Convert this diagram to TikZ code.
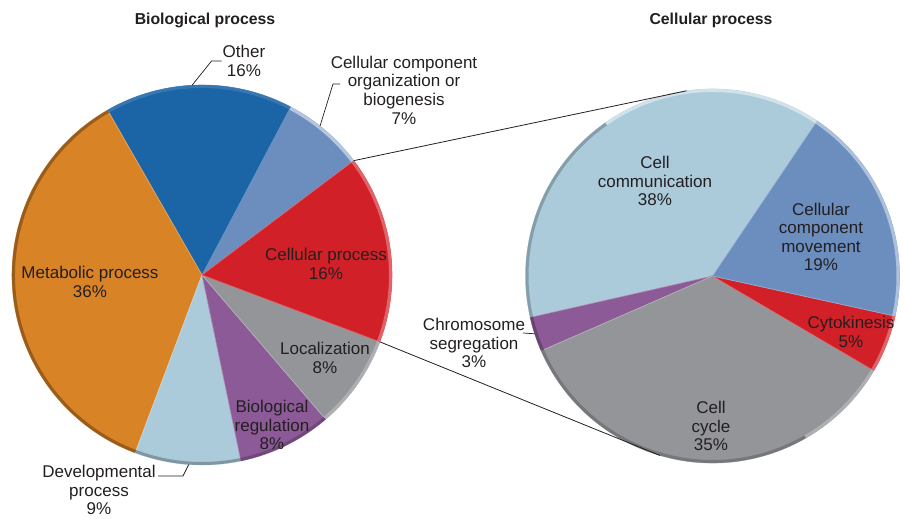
\documentclass[tikz,border=0pt]{standalone}
\usepackage{fontspec}
\setmainfont{Liberation Sans}
\usetikzlibrary{calc}
\definecolor{otherblue}{HTML}{1B64A6}
\definecolor{ccoblue}{HTML}{6C8EBF}
\definecolor{cellred}{HTML}{D12028}
\definecolor{locgray}{HTML}{939598}
\definecolor{regpurple}{HTML}{8C5A97}
\definecolor{devblue}{HTML}{ABCADA}
\definecolor{metorange}{HTML}{D98327}
\definecolor{ink}{HTML}{231F20}
\tikzset{
  lbl/.style={align=center,text=ink,font=\fontsize{17}{18.6}\selectfont,inner sep=1pt},
  ttl/.style={text=ink,font=\fontsize{15.8}{18}\selectfont\bfseries},
  rim/.style={line width=3pt},
  leader/.style={draw=ink,line width=0.7pt},
  link/.style={draw=ink,line width=0.8pt}
}
\begin{document}
\begin{tikzpicture}[x=1pt,y=1pt]
    \useasboundingbox (0,0) rectangle (906,519);
    \coordinate (lc) at (202,244);
    \coordinate (rc) at (712.5,243);

    % biological process
    \foreach \a/\b/\c in {37/62.2/ccoblue,62.2/119.8/otherblue,119.8/249.4/metorange,
        249.4/281.8/devblue,281.8/310.6/regpurple,310.6/339.4/locgray,339.4/397/cellred}{
      \filldraw[fill=\c,draw=\c!70!white,line width=0.6pt] (lc) -- ($(lc)+(\a:190pt)$)
        arc[start angle=\a,end angle=\b,radius=190pt] -- cycle;
    }
    \foreach \a/\b/\r in {37/62.2/ccoblue!50!white,62.2/119.8/otherblue!88!white,
        119.8/249.4/metorange!70!black,249.4/281.8/devblue!75!black,
        281.8/310.6/regpurple!80!black,310.6/339.4/locgray!75!white,339.4/397/cellred!70!white}{
      \draw[rim,\r] ($(lc)+(\a:188.5pt)$) arc[start angle=\a,end angle=\b,radius=188.5pt];
    }

    % cellular process
    \foreach \a/\b/\c in {56/192.8/devblue,192.8/203.6/regpurple,203.6/329.6/locgray,
        329.6/347.6/cellred,347.6/416/ccoblue}{
      \filldraw[fill=\c,draw=\c!70!white,line width=0.6pt] (rc) -- ($(rc)+(\a:187pt)$)
        arc[start angle=\a,end angle=\b,radius=187pt] -- cycle;
    }
    \foreach \a/\b/\r in {56/125/devblue!55!white,125/192.8/devblue!78!black,
        192.8/203.6/regpurple!75!black,203.6/300/locgray!80!black,300/329.6/locgray!75!white,
        329.6/347.6/cellred!70!white,347.6/416/ccoblue!55!white}{
      \draw[rim,\r] ($(rc)+(\a:185.5pt)$) arc[start angle=\a,end angle=\b,radius=185.5pt];
    }

    \node[ttl] (tleft) at (205,499) {Biological process};
    \node[ttl] (tright) at (711,499) {Cellular process};

    \node[lbl] (other) at (244,458) {Other\\16\%};
    \node[lbl] (ccob) at (404,429) {Cellular component\\organization or\\biogenesis\\7\%};
    \node[lbl] (cellp) at (326,255) {Cellular process\\16\%};
    \node[lbl] (metab) at (90,237) {Metabolic process\\36\%};
    \node[lbl] (local) at (325,161) {Localization\\8\%};
    \node[lbl] (bioreg) at (272,94) {Biological\\regulation\\8\%};
    \node[lbl] (devel) at (99,29) {Developmental\\process\\9\%};

    \node[lbl] (cellcomm) at (655,338) {Cell\\communication\\38\%};
    \node[lbl] (ccmove) at (821,282) {Cellular\\component\\movement\\19\%};
    \node[lbl] (cytok) at (851,187) {Cytokinesis\\5\%};
    \node[lbl] (cycle) at (711,93) {Cell\\cycle\\35\%};
    \node[lbl] (chromo) at (474,176) {Chromosome\\segregation\\3\%};

    \draw[leader] (other.west) -- ++(-10,0) -- ($(lc)+(93:190pt)$);
    \draw[leader] ($(ccob.center)+(-64,6)$) -- ++(-7,0) -- ($(lc)+(51.6:190pt)$);
    \draw[leader] ($(devel.center)+(59,14)$) -- ++(25,0) -- ($(lc)+(266:190pt)$);
    \draw[leader] ($(chromo.center)+(49,10)$) -- ($(rc)+(198:187pt)$);

    \draw[link] ($(lc)+(37:190pt)$) -- ($(rc)+(98:187pt)$);
    \draw[link] ($(lc)+(339.4:190pt)$) -- ($(rc)+(253.7:187pt)$);
\end{tikzpicture}
\end{document}
